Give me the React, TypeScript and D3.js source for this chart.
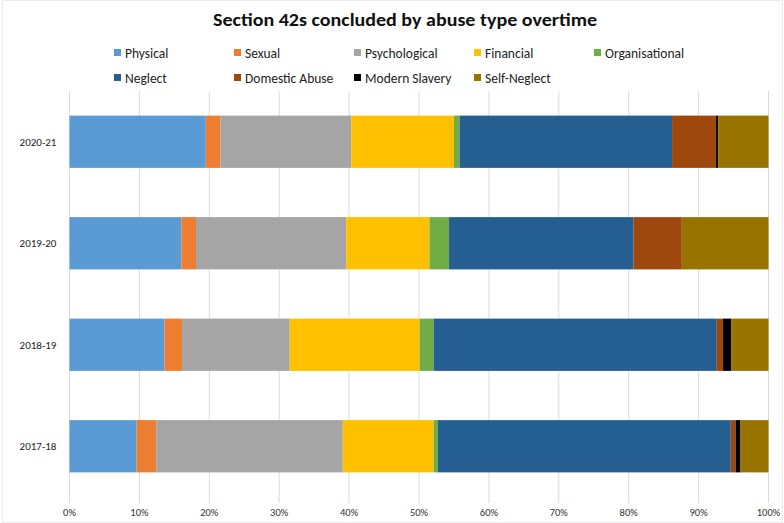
import React from "react";
import * as d3 from "d3";

const years = ["2020-21", "2019-20", "2018-19", "2017-18"];
const types = ["Physical", "Sexual", "Psychological", "Financial", "Organisational", "Neglect", "Domestic Abuse", "Modern Slavery", "Self-Neglect"];
const colors = ["#5B9BD5", "#ED7D31", "#A5A5A5", "#FFC000", "#70AD47", "#255E91", "#9E480E", "#000000", "#997300"];

// percentages per year, in type order
const physical = [19.5, 16.0, 13.6, 9.6];
const sexual = [2.1, 2.1, 2.5, 2.8];
const psychological = [18.7, 21.5, 15.4, 26.7];
const financial = [14.7, 11.9, 18.6, 13.0];
const organisational = [0.8, 2.8, 2.0, 0.6];
const neglect = [30.4, 26.4, 40.5, 41.9];
const domesticAbuse = [6.3, 6.9, 0.9, 0.7];
const modernSlavery = [0.3, 0.0, 1.2, 0.7];
const selfNeglect = [7.2, 12.4, 5.3, 4.0];

const xTicks = [0, 10, 20, 30, 40, 50, 60, 70, 80, 90, 100];

const W = 784;
const H = 523;

export default function App() {
  const seriesValues = [physical, sexual, psychological, financial, organisational, neglect, domesticAbuse, modernSlavery, selfNeglect];
  const rows = years.map((y, i) => {
    const r: any = { year: y };
    types.forEach((t, k) => (r[t] = seriesValues[k][i]));
    return r;
  });
  const stack = d3.stack().keys(types).offset(d3.stackOffsetExpand);
  const series = stack(rows);

  const x = d3.scaleLinear().domain([0, 1]).range([69.5, 768.5]);
  const y = d3.scaleBand().domain(years).range([91, 497]).paddingInner(0.485).paddingOuter(0.2425);

  const font = "Carlito, Calibri, 'Liberation Sans', Arial, sans-serif";

  const legendRows = [types.slice(0, 5), types.slice(5)];

  return (
    <svg width={W} height={H} style={{ position: "absolute", left: 0, top: 0, background: "#fff" }} fontFamily={font}>
      <rect x={2.5} y={0.5} width={W - 4} height={H - 1} fill="#fff" stroke="#ececec" />
      <text x={405} y={26} textAnchor="middle" fontSize={17} fontWeight="bold" fill="#111" textLength={384} lengthAdjust="spacingAndGlyphs">
        Section 42s concluded by abuse type overtime
      </text>
      {legendRows.map((row, ri) =>
        row.map((t, ci) => {
          const idx = ri * 5 + ci;
          const lx = 114 + ci * 120;
          const ly = 53 + ri * 25;
          return (
            <g key={t}>
              <rect x={lx} y={ly - 4} width={7} height={7} fill={colors[idx]} />
              <text x={lx + 11} y={ly + 4.5} fontSize={13.5} fill="#222">
                {t}
              </text>
            </g>
          );
        })
      )}
      {xTicks.map((t) => (
        <g key={t}>
          <line x1={x(t / 100)} x2={x(t / 100)} y1={91} y2={503} stroke="#dcdcdc" strokeWidth={1} />
          <text x={x(t / 100)} y={516} textAnchor="middle" fontSize={10.5} fill="#333">
            {t + "%"}
          </text>
        </g>
      ))}
      {series.map((s, k) => (
        <g key={types[k]} fill={colors[k]}>
          {s.map((d: any, i) => (
            <rect key={i} x={x(d[0])} y={y(d.data.year)!} width={Math.max(0, x(d[1]) - x(d[0]))} height={y.bandwidth()} />
          ))}
        </g>
      ))}
      {years.map((yr) => (
        <text key={yr} x={38} y={y(yr)! + y.bandwidth() / 2 + 4} textAnchor="middle" fontSize={11} fill="#222">
          {yr}
        </text>
      ))}
    </svg>
  );
}
